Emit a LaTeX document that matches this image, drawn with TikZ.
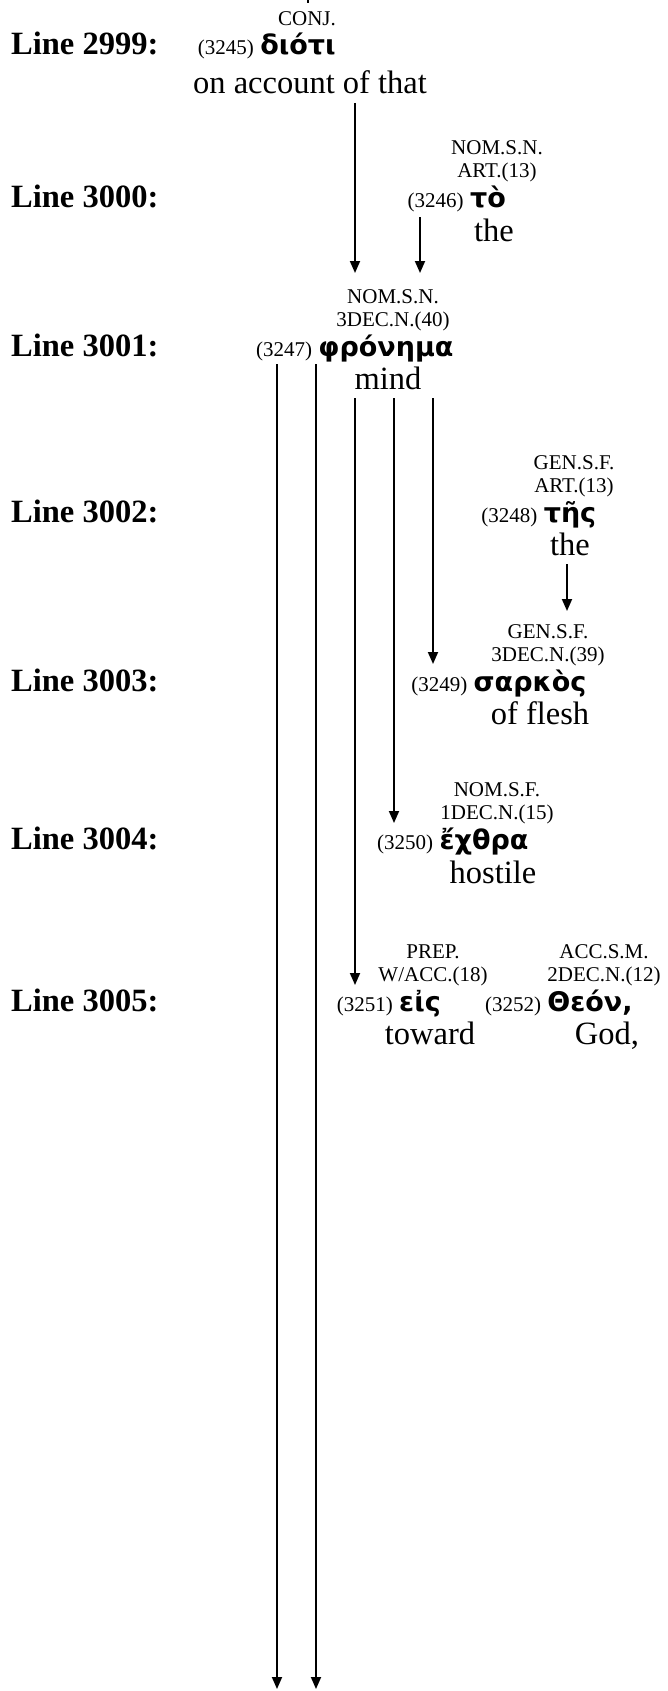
\documentclass[tikz,border=0pt]{standalone}
\usepackage{fontspec}
\setmainfont{Liberation Serif}
\newfontfamily\gk{DejaVu Sans}
\usetikzlibrary{arrows.meta}
\tikzset{
  lbl/.style={font=\fontsize{32.5}{38}\selectfont\bfseries, anchor=base west, inner sep=0pt},
  tagtxt/.style={font=\fontsize{21}{24}\selectfont, anchor=base, inner sep=0pt},
  grk/.style={font=\fontsize{27}{32}\selectfont\gk\bfseries, anchor=base, inner sep=0pt},
  num/.style={font=\fontsize{21}{24}\selectfont, anchor=base east, inner sep=0pt},
  gls/.style={font=\fontsize{32.5}{38}\selectfont, anchor=base, inner sep=0pt},
  arr/.style={line width=1.8pt, -{Triangle[length=12pt,width=10pt]}},
  stem/.style={line width=1.8pt}
}
\begin{document}
\begin{tikzpicture}[x=1pt,y=-1pt]
\useasboundingbox (0,0) rectangle (668,1691);
% line labels
\node[lbl] (L2999) at (11,55) {Line 2999:};
\node[lbl] (L3000) at (11,207) {Line 3000:};
\node[lbl] (L3001) at (11,356) {Line 3001:};
\node[lbl] (L3002) at (11,522) {Line 3002:};
\node[lbl] (L3003) at (11,691) {Line 3003:};
\node[lbl] (L3004) at (11,849) {Line 3004:};
\node[lbl] (L3005) at (11,1011) {Line 3005:};
% 3245
\node[tagtxt] (t3245a) at (307,26) {CONJ.};
\node[grk] (g3245) at (298,55) {διότι};
\node[num] (n3245) at ([xshift=-6pt]g3245.base west) {(3245)};
\node[gls] (e3245) at (310,94) {on account of that};
% 3246
\node[tagtxt] (t3246a) at (497,154) {NOM.S.N.};
\node[tagtxt] (t3246b) at (497,177) {ART.(13)};
\node[grk] (g3246) at (488,207) {τὸ};
\node[num] (n3246) at ([xshift=-6pt]g3246.base west) {(3246)};
\node[gls] (e3246) at (494,241) {the};
% 3247
\node[tagtxt] (t3247a) at (393,303) {NOM.S.N.};
\node[tagtxt] (t3247b) at (393,326) {3DEC.N.(40)};
\node[grk] (g3247) at (386,356) {φρόνημα};
\node[num] (n3247) at ([xshift=-6pt]g3247.base west) {(3247)};
\node[gls] (e3247) at (388,389) {mind};
% 3248
\node[tagtxt] (t3248a) at (574,469) {GEN.S.F.};
\node[tagtxt] (t3248b) at (574,492) {ART.(13)};
\node[grk] (g3248) at (570,522) {τῆς};
\node[num] (n3248) at ([xshift=-6pt]g3248.base west) {(3248)};
\node[gls] (e3248) at (570,555) {the};
% 3249
\node[tagtxt] (t3249a) at (548,638) {GEN.S.F.};
\node[tagtxt] (t3249b) at (548,661) {3DEC.N.(39)};
\node[grk] (g3249) at (530,691) {σαρκὸς};
\node[num] (n3249) at ([xshift=-6pt]g3249.base west) {(3249)};
\node[gls] (e3249) at (540,724) {of flesh};
% 3250
\node[tagtxt] (t3250a) at (497,796) {NOM.S.F.};
\node[tagtxt] (t3250b) at (497,819) {1DEC.N.(15)};
\node[grk] (g3250) at (484,849) {ἔχθρα};
\node[num] (n3250) at ([xshift=-6pt]g3250.base west) {(3250)};
\node[gls] (e3250) at (493,883) {hostile};
% 3251
\node[tagtxt] (t3251a) at (433,958) {PREP.};
\node[tagtxt] (t3251b) at (433,981) {W/ACC.(18)};
\node[grk] (g3251) at (420,1011) {εἰς};
\node[num] (n3251) at ([xshift=-6pt]g3251.base west) {(3251)};
\node[gls] (e3251) at (430,1044) {toward};
% 3252
\node[tagtxt] (t3252a) at (604,958) {ACC.S.M.};
\node[tagtxt] (t3252b) at (604,981) {2DEC.N.(12)};
\node[grk] (g3252) at (590,1011) {Θεόν,};
\node[num] (n3252) at ([xshift=-6pt]g3252.base west) {(3252)};
\node[gls] (e3252) at (607,1044) {God,};
% connector end points
\coordinate (s0a) at (308,0);   \coordinate (s0b) at (308,3);
\coordinate (a1s) at (355,103); \coordinate (a1e) at (355,273);
\coordinate (a2s) at (420,217); \coordinate (a2e) at (420,273);
\coordinate (l1s) at (277,364); \coordinate (l1e) at (277,1689);
\coordinate (l2s) at (316,364); \coordinate (l2e) at (316,1689);
\coordinate (a3s) at (355,398); \coordinate (a3e) at (355,985);
\coordinate (a4s) at (394,398); \coordinate (a4e) at (394,823);
\coordinate (a5s) at (433,398); \coordinate (a5e) at (433,664);
\coordinate (a6s) at (567,564); \coordinate (a6e) at (567,611);
% connectors
\draw[stem] (s0a) -- (s0b);
\draw[arr] (a1s) -- (a1e);
\draw[arr] (a2s) -- (a2e);
\draw[arr] (l1s) -- (l1e);
\draw[arr] (l2s) -- (l2e);
\draw[arr] (a3s) -- (a3e);
\draw[arr] (a4s) -- (a4e);
\draw[arr] (a5s) -- (a5e);
\draw[arr] (a6s) -- (a6e);
\end{tikzpicture}
\end{document}
